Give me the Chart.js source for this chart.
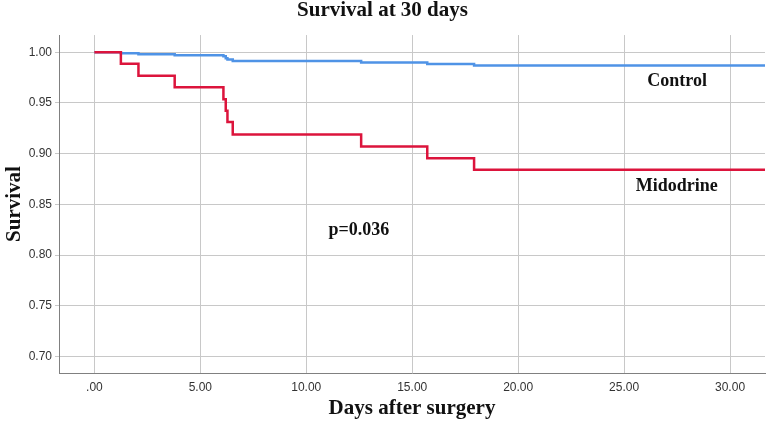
<!DOCTYPE html>
<html>
<head>
<meta charset="utf-8">
<script src="https://cdn.jsdelivr.net/npm/chart.js@4"></script>
<style>
  body { margin: 0; background: #fff; }
</style>
</head>
<body>
<canvas id="grafico" width="767" height="421"></canvas>
<script>
// Kaplan-Meier steps
const controlDays = [0, 1.25, 2.08, 3.79, 6.09, 6.2, 6.28, 6.53, 12.59, 15.71, 17.92, 31.7];
const controlSurv = [1, 0.999, 0.998, 0.997, 0.996, 0.994, 0.993, 0.9915, 0.990, 0.9885, 0.987, 0.987];
const midoDays = [0, 1.25, 2.08, 3.79, 6.09, 6.2, 6.28, 6.53, 12.59, 15.71, 17.92, 31.7];
const midoSurv = [1, 0.9888, 0.9769, 0.9655, 0.9537, 0.9422, 0.9313, 0.9188, 0.907, 0.8955, 0.884, 0.884];

const xTicks = [0, 5, 10, 15, 20, 25, 30];
const yTicks = [0.70, 0.75, 0.80, 0.85, 0.90, 0.95, 1.00];

// text placed on the plot
const notas = [
  { text: 'Control', x: 27.5, y: 0.9711 },
  { text: 'Midodrine', x: 27.48, y: 0.8675 },
  { text: 'p=0.036', x: 12.48, y: 0.8248 }
];

function pontos(dias, surv) {
  return dias.map((d, i) => ({ x: d, y: surv[i] }));
}

const notasPlugin = {
  id: 'notas',
  afterDatasetsDraw(chart) {
    const ctx = chart.ctx;
    const sx = chart.scales.x, sy = chart.scales.y;
    ctx.save();
    ctx.font = 'bold 18px "Liberation Serif", "Times New Roman", serif';
    ctx.fillStyle = '#111';
    ctx.textAlign = 'center';
    ctx.textBaseline = 'middle';
    notas.forEach(n => {
      ctx.fillText(n.text, sx.getPixelForValue(n.x), sy.getPixelForValue(n.y));
    });
    ctx.restore();
  }
};

const serif = '"Liberation Serif", "Times New Roman", serif';
const sans = '"Liberation Sans", Arial, sans-serif';

new Chart(document.getElementById('grafico').getContext('2d'), {
  type: 'line',
  data: {
    datasets: [
      {
        label: 'Midodrine',
        data: pontos(midoDays, midoSurv),
        borderColor: '#dc143c',
        borderWidth: 2.5,
        stepped: 'before',
        pointRadius: 0,
        fill: false
      },
      {
        label: 'Control',
        data: pontos(controlDays, controlSurv),
        borderColor: '#4f93e6',
        borderWidth: 2.5,
        stepped: 'before',
        pointRadius: 0,
        fill: false
      }
    ]
  },
  options: {
    responsive: false,
    animation: false,
    layout: { padding: { left: 0, right: 2, top: 0, bottom: 0 } },
    plugins: {
      legend: { display: false },
      tooltip: { enabled: false },
      title: {
        display: true,
        text: 'Survival at 30 days',
        color: '#111',
        font: { family: serif, size: 21, weight: 'bold', lineHeight: 1.05 },
        padding: { top: 0, bottom: 13 }
      }
    },
    scales: {
      x: {
        type: 'linear',
        min: -1.67,
        max: 31.65,
        afterBuildTicks: s => { s.ticks = xTicks.map(v => ({ value: v })); },
        afterFit: s => { s.height = 48; },
        ticks: {
          color: '#333',
          font: { family: sans, size: 12 },
          padding: 7,
          callback: v => v === 0 ? '.00' : v.toFixed(2)
        },
        grid: { color: '#c8c8c8', lineWidth: 1, drawTicks: false },
        border: { display: true, color: '#808080', width: 1 },
        title: {
          display: true,
          text: 'Days after surgery',
          color: '#111',
          font: { family: serif, size: 21, weight: 'bold', lineHeight: 0.76 }
        }
      },
      y: {
        type: 'linear',
        min: 0.6836,
        max: 1.017,
        afterBuildTicks: s => { s.ticks = yTicks.map(v => ({ value: v })); },
        afterFit: s => { s.width = 59; },
        ticks: {
          color: '#333',
          font: { family: sans, size: 12 },
          padding: 3,
          callback: v => v.toFixed(2)
        },
        grid: { color: '#c8c8c8', lineWidth: 1, tickLength: 4 },
        border: { display: true, color: '#808080', width: 1 },
        title: {
          display: true,
          text: 'Survival',
          color: '#111',
          font: { family: serif, size: 21, weight: 'bold', lineHeight: 1.01 }
        }
      }
    }
  },
  plugins: [notasPlugin]
});
</script>
</body>
</html>
